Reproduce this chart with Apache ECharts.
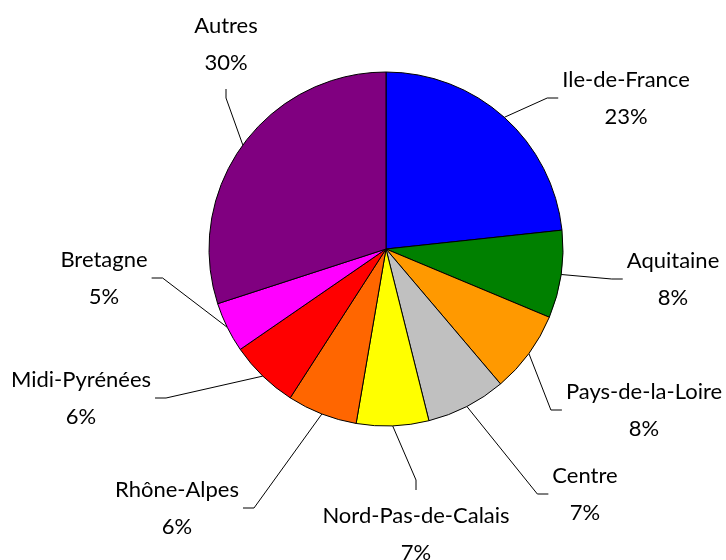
<!DOCTYPE html>
<html><head><meta charset="utf-8">
<script src="https://cdn.jsdelivr.net/npm/echarts@6/dist/echarts.min.js"></script>
<style>html,body{margin:0;padding:0;background:#fff}#c{width:726px;height:560px}</style>
</head><body><div id="c"></div>
<script>
const regions = ['Ile-de-France','Aquitaine','Pays-de-la-Loire','Centre','Nord-Pas-de-Calais','Rhône-Alpes','Midi-Pyrénées','Bretagne','Autres'];
const shares = [23.3, 8.0, 7.5, 7.3, 6.6, 6.4, 6.3, 4.6, 30.0];
const colors = ['#0000FF','#008000','#FF9900','#C0C0C0','#FFFF00','#FF6600','#FF0000','#FF00FF','#800080'];
// label block centres and the side from which the leader line reaches them
const labelSpots = [[626,98,'left'],[673,279,'left'],[644,410,'left'],[585,494,'left'],[416,534,'bottom'],[177,508,'right'],[81,398,'right'],[104,278,'right'],[226,44,'top']];

const chart = echarts.init(document.getElementById('c'), null, {renderer:'canvas'});
chart.setOption({
  animation: false,
  backgroundColor: '#fff',
  series: [{
    type: 'pie',
    center: [386, 249],
    radius: 177,
    startAngle: 90,
    clockwise: true,
    avoidLabelOverlap: false,
    data: regions.map((n, i) => ({name: n, value: shares[i], itemStyle: {color: colors[i]}})),
    itemStyle: {borderColor: '#000', borderWidth: 1},
    emphasis: {disabled: true},
    label: {
      show: true,
      position: 'outside',
      color: '#000',
      fontFamily: 'Lato',
      fontSize: 22,
      lineHeight: 37,
      align: 'center',
      formatter: p => p.name + '\n' + Math.round(p.percent) + '%'
    },
    labelLine: {show: true, length: 20, length2: 10, lineStyle: {color: '#000', width: 1}},
    labelLayout: function (params) {
      const s = labelSpots[params.dataIndex];
      const w = params.labelRect.width, h = params.labelRect.height;
      const x = s[0], y = s[1];
      let end, elbow;
      if (s[2] === 'left') { end = [x - w / 2 - 4, y]; elbow = [end[0] - 11, y]; }
      else if (s[2] === 'right') { end = [x + w / 2 + 4, y]; elbow = [end[0] + 11, y]; }
      else if (s[2] === 'top') { end = [x, y + h / 2 + 8]; elbow = [x, end[1] + 9]; }
      else { end = [x, y - h / 2 - 7]; elbow = [x, end[1] - 10]; }
      const p0 = params.labelLinePoints[0];
      return {x: x, y: y, align: 'center', verticalAlign: 'middle', labelLinePoints: [p0, elbow, end]};
    }
  }]
});
</script></body></html>
